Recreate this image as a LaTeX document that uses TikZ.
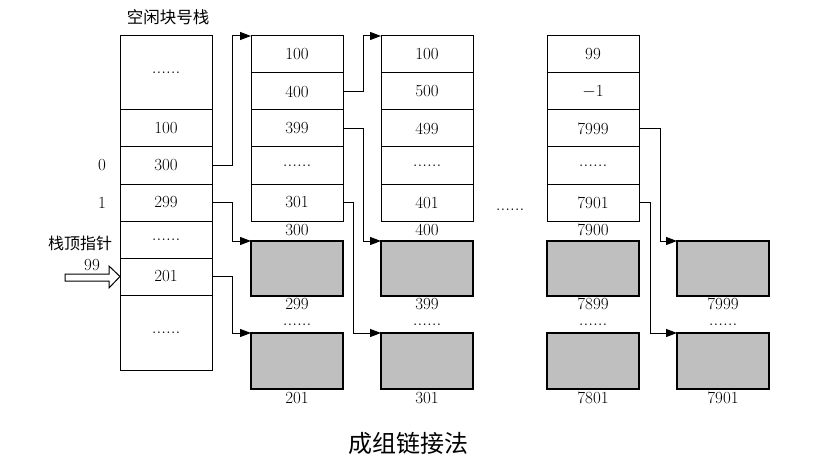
\documentclass[tikz,border=0pt]{standalone}
\usepackage{fontspec}
\newfontfamily\cjk{Noto Sans CJK SC}
\usetikzlibrary{arrows.meta}
\newcommand\sixdots{{\fontsize{19}{20}\selectfont......}}
\begin{document}
\begin{tikzpicture}[x=1pt,y=-1pt,
  cell/.style={draw, line width=1pt, minimum width=92pt, minimum height=37pt, inner sep=0pt, outer sep=0pt, font=\fontsize{17}{20}\selectfont},
  gbox/.style={draw, fill=black!25, line width=1.3pt, minimum width=92pt, inner sep=0pt, outer sep=0pt},
  lab/.style={inner sep=0pt, font=\fontsize{17}{20}\selectfont},
  link/.style={line width=1pt, -{Triangle[length=11pt,width=8pt]}}
]
\useasboundingbox (0,0) rectangle (814,468);
% main stack
\node[lab, font=\cjk\fontsize{16.5}{18}\selectfont] (title) at (168,17) {空闲块号栈};
\node[cell, minimum height=74pt] (m0) at (166,73) {\sixdots};
\node[cell] (m1) at (166,128.5) {100};
\node[cell] (m2) at (166,165.5) {300};
\node[cell] (m3) at (166,202.5) {299};
\node[cell] (m4) at (166,239.5) {\sixdots};
\node[cell] (m5) at (166,276.5) {201};
\node[cell, minimum height=75pt] (m6) at (166,332.5) {\sixdots};
\node[lab] (i0) at (102,165.5) {0};
\node[lab] (i1) at (102,202.5) {1};
\node[lab, font=\cjk\fontsize{16}{18}\selectfont] (ptrlab) at (80,243) {栈顶指针};
\node[lab] (n99) at (92,265) {99};
\draw[line width=1pt, fill=white] (65,274) -- (109,274) -- (109,266) -- (m5.west) -- (109,288) -- (109,281) -- (65,281) -- cycle;
% columns
\foreach \c/\x/\a/\b/\cc/\e/\la/\lb/\lc in {2/297/100/400/399/301/300/299/201, 3/427/100/500/499/401/400/399/301, 4/593/99/$-$1/7999/7901/7900/7899/7801}{
  \node[cell] (c\c r0) at (\x,54.5) {\a};
  \node[cell] (c\c r1) at (\x,91.5) {\b};
  \node[cell] (c\c r2) at (\x,128.5) {\cc};
  \node[cell] (c\c r3) at (\x,165.5) {\sixdots};
  \node[cell] (c\c r4) at (\x,202.5) {\e};
  \node[lab, anchor=north] (l\c w) at ([yshift=-3pt]c\c r4.south) {\la};
  \node[gbox, minimum height=55pt] (g\c a) at (\x,268.5) {};
  \node[lab, anchor=north] (l\c a) at ([yshift=-2pt]g\c a.south) {\lb};
  \node[lab] (d\c) at (\x,325) {\sixdots};
  \node[gbox, minimum height=56pt] (g\c b) at (\x,361) {};
  \node[lab, anchor=north] (l\c b) at ([yshift=-3pt]g\c b.south) {\lc};
}
\node[gbox, minimum height=55pt] (g5a) at (723,268.5) {};
\node[lab, anchor=north] (l5a) at ([yshift=-2pt]g5a.south) {7999};
\node[lab] (d5) at (723,325) {\sixdots};
\node[gbox, minimum height=56pt] (g5b) at (723,361) {};
\node[lab, anchor=north] (l5b) at ([yshift=-3pt]g5b.south) {7901};
\node[lab] (gap) at (510,210) {\sixdots};
% links
\draw[link] (m2.east) -- ++(20,0) |- (c2r0.north west);
\draw[link] (m3.east) -- ++(20,0) |- (g2a.north west);
\draw[link] (m5.east) -- ++(20,0) |- (g2b.north west);
\draw[link] (c2r1.east) -- ++(20,0) |- (c3r0.north west);
\draw[link] (c2r2.east) -- ++(20,0) |- (g3a.north west);
\draw[link] (c2r4.east) -- ++(10,0) |- (g3b.north west);
\draw[link] (c4r2.east) -- ++(21,0) |- (g5a.north west);
\draw[link] (c4r4.east) -- ++(11,0) |- (g5b.north west);
% caption
\node[lab, font=\cjk\fontsize{24}{28}\selectfont] (cap) at (408,443) {成组链接法};
\end{tikzpicture}
\end{document}
